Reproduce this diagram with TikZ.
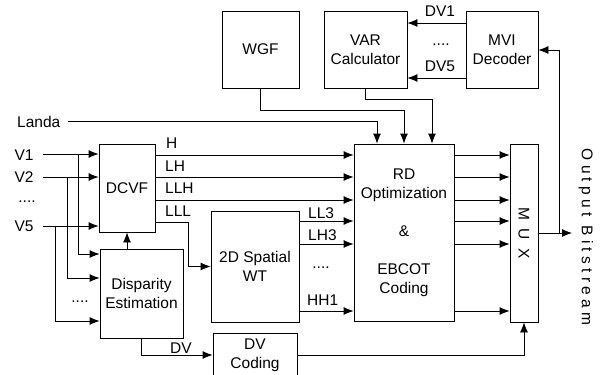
\documentclass[tikz,border=0pt]{standalone}
\usepackage{fontspec}
\setmainfont{Liberation Sans}
\usetikzlibrary{arrows.meta}

\begin{document}
\begin{tikzpicture}[x=1pt,y=-1pt,
    blk/.style={draw=black,line width=0.8pt,inner sep=0pt,align=center,
        font=\fontsize{15.5}{19}\selectfont},
    lbl/.style={inner sep=0pt,font=\fontsize{15.5}{19}\selectfont},
    wire/.style={line width=0.8pt},
    conn/.style={wire,-{Latex[length=10pt,width=8pt]}}]
    \useasboundingbox (0,0) rectangle (603,375);
    \clip (0,0) rectangle (603,375);

    % Blocks on top
    \node[blk,minimum width=77,minimum height=77] (wgf) at (260.5,49.5) {WGF};
    \node[blk,minimum width=83,minimum height=77] (var) at (365.5,49.5) {VAR\\Calculator};
    \node[blk,minimum width=72,minimum height=77] (mvi) at (502,49.5) {MVI\\Decoder};

    % Blocks of the encoder
    \node[blk,minimum width=56,minimum height=88] (dcvf) at (127,188) {DCVF};
    \node[blk,minimum width=83,minimum height=89] (disp) at (141.5,293.5) {Disparity\\Estimation};
    \node[blk,minimum width=88,minimum height=111] (wt) at (255,266.5) {2D Spatial\\WT};
    \node[blk,minimum width=84,minimum height=44] (dvc) at (255,355) {DV\\Coding};
    \node[blk,minimum width=100,minimum height=177] (rd) at (404,232.5)
        {RD\\Optimization\\[19pt]\&\\[19pt]EBCOT\\Coding};
    \node[blk,minimum width=28,minimum height=178] (mux) at (524,233) {};
    \node[lbl,rotate=-90] (muxt) at (mux.center) {M\ \ U\ \ X};

    % Inputs
    \node[lbl,anchor=base west] (landa) at (17,127) {Landa};
    \node[lbl,anchor=base] (v1) at (24,160) {V1};
    \node[lbl,anchor=base] (v2) at (24,182) {V2};
    \node[lbl,anchor=base] (vd) at (27,202) {....};
    \node[lbl,anchor=base] (v5) at (24,231) {V5};
    \coordinate (v1s) at (43,154);
    \coordinate (v2s) at (43,177);
    \coordinate (v5s) at (43,226);

    \draw[conn] ([xshift=7pt]landa.east) -| (rd.north -| 377,0);
    \draw[conn] (v1s) -- (v1s -| dcvf.west);
    \draw[conn] (v2s) -- (v2s -| dcvf.west);
    \draw[conn] (v5s) -- (v5s -| dcvf.west);
    \draw[conn] (78,154) |- (disp.west |- 0,254);
    \draw[conn] (67,177) |- (disp.west |- 0,278);
    \draw[conn] (55,226) |- (disp.west |- 0,321);
    \node[lbl,anchor=base] (dd) at (80,302) {....};

    % Disparity to DCVF and DV coding
    \draw[conn] (disp.north -| dcvf.south) -- (dcvf.south);
    \draw[conn] (disp.south) |- (dvc.west);
    \node[lbl,anchor=base] (ldv) at (181,353) {DV};
    \draw[conn] (dvc.east) -| (mux.south);

    % DCVF outputs
    \draw[conn] (dcvf.east |- 0,155) -- (rd.west |- 0,155);
    \draw[conn] (dcvf.east |- 0,177) -- (rd.west |- 0,177);
    \draw[conn] (dcvf.east |- 0,200) -- (rd.west |- 0,200);
    \draw[conn] (dcvf.east |- 0,222) -- (188,222) |- (wt.west);
    \node[lbl,anchor=base west] (lh) at (166,148) {H};
    \node[lbl,anchor=base west] (llh) at (165,171) {LH};
    \node[lbl,anchor=base west] (lllh) at (165,193) {LLH};
    \node[lbl,anchor=base west] (llll) at (165,216) {LLL};

    % Spatial WT outputs
    \draw[conn] (wt.east |- 0,221) -- (rd.west |- 0,221);
    \draw[conn] (wt.east |- 0,244) -- (rd.west |- 0,244);
    \draw[conn] (wt.east |- 0,311) -- (rd.west |- 0,311);
    \node[lbl,anchor=base west] (lll3) at (308,218) {LL3};
    \node[lbl,anchor=base west] (llh3) at (308,240) {LH3};
    \node[lbl,anchor=base] (ldots) at (321,268) {....};
    \node[lbl,anchor=base west] (lhh1) at (307,305) {HH1};

    % Top blocks to RD
    \draw[conn] (wgf.south) -- ++(0,22) -| (rd.north -| 404,0);
    \draw[conn] (var.south) -- ++(0,11) -| (rd.north -| 432,0);
    \draw[conn] (mvi.west |- 0,23) -- (var.east |- 0,23);
    \draw[conn] (mvi.west |- 0,78) -- (var.east |- 0,78);
    \node[lbl,anchor=base] (ldv1) at (440,16) {DV1};
    \node[lbl,anchor=base] (ldvd) at (441,45) {....};
    \node[lbl,anchor=base] (ldv5) at (440,71) {DV5};

    % RD to MUX
    \foreach \yy in {155,177,200,221,244,311}
        \draw[conn] (rd.east |- 0,\yy) -- (mux.west |- 0,\yy);

    % Output
    \coordinate (bs) at (572,233);
    \draw[conn] (mux.east) -- (bs);
    \draw[conn] (mux.east -| 559,0) |- (mvi.east |- 0,50);
    \node[lbl,rotate=-90] (out) at (586,237) {O u t p u t\ \ B i t s t r e a m};
\end{tikzpicture}
\end{document}
